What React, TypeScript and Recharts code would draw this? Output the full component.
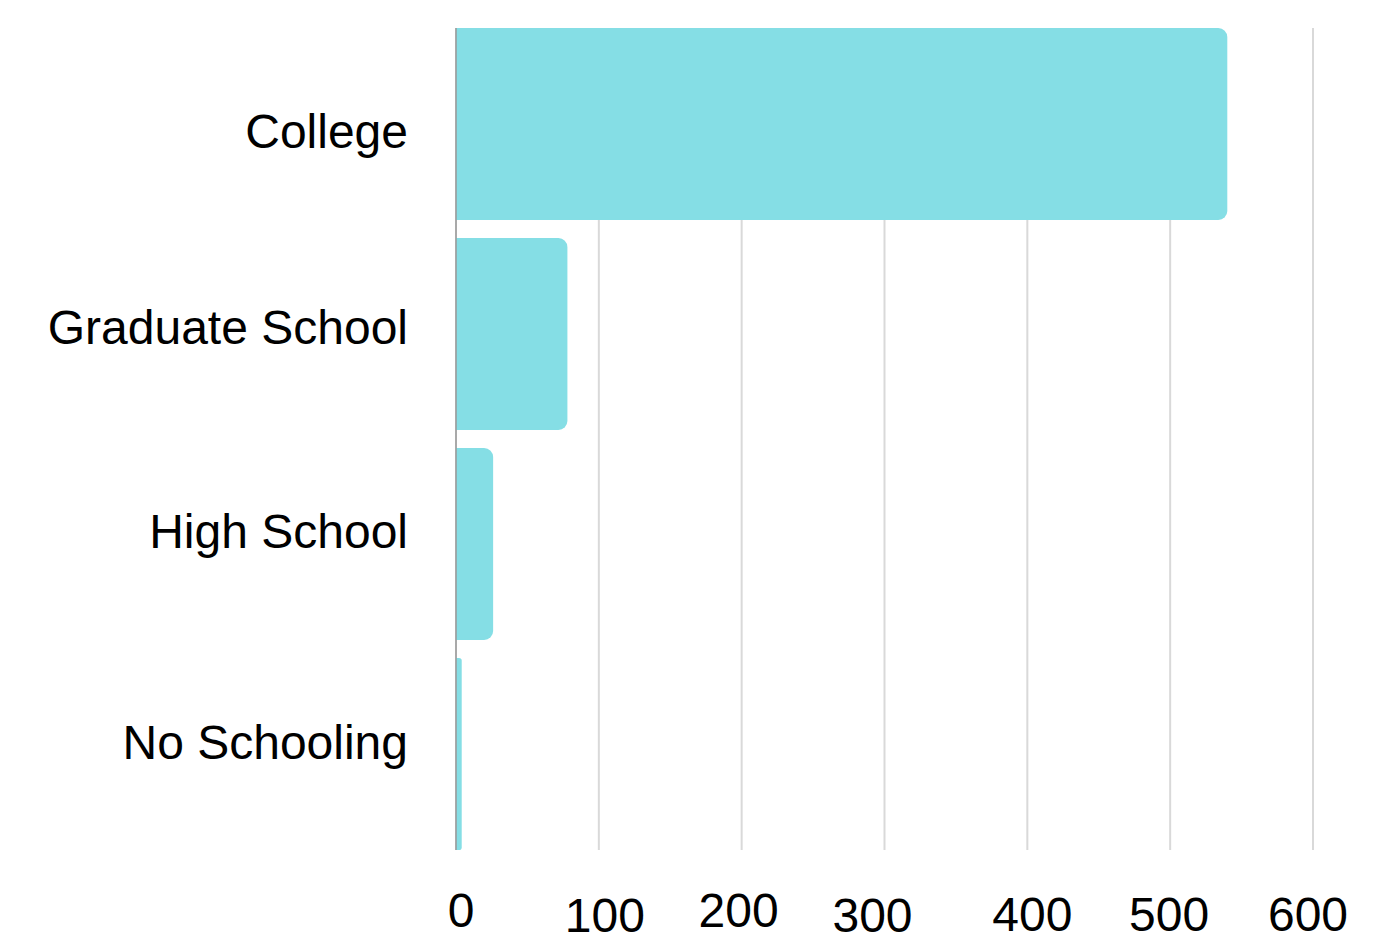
import React from 'react';
import { BarChart, Bar, XAxis, YAxis, CartesianGrid } from 'recharts';

const categories = ['College', 'Graduate School', 'High School', 'No Schooling'];
const counts = [540, 78, 26, 4];
const xTicks = [0, 100, 200, 300, 400, 500, 600];

// small nudges so the tick labels sit where the original put them
const xLabelShift = [5, 6, -3, -12, 5, -1, -5];
const xLabelBaseline = [927, 932, 927, 932, 931, 931, 931];
const yLabelShift = [7, -7, -13, -12];

const data = categories.map((name, i) => ({ name, value: counts[i] }));

const FONT = '"Liberation Sans", Arial, Helvetica, sans-serif';

const XTick = (props: any) => {
  const { x, index, payload } = props;
  return (
    <text
      x={x + (xLabelShift[index] ?? 0)}
      y={xLabelBaseline[index] ?? 931}
      textAnchor="middle"
      fontSize={48}
      fontFamily={FONT}
      fill="#000"
    >
      {payload.value}
    </text>
  );
};

const YTick = (props: any) => {
  const { y, index, payload } = props;
  return (
    <text
      x={408}
      y={y + (yLabelShift[index] ?? 0)}
      dy="0.355em"
      textAnchor="end"
      fontSize={48}
      fontFamily={FONT}
      fill="#000"
    >
      {payload.value}
    </text>
  );
};

const App: React.FC = () => {
  return (
    <div style={{ position: 'absolute', left: 0, top: 0, background: '#fff' }}>
      <BarChart
        width={1400}
        height={942}
        data={data}
        layout="vertical"
        margin={{ top: 28, right: 87, bottom: 0, left: 0 }}
        barCategoryGap={9}
      >
        <CartesianGrid horizontal={false} stroke="#d9d9d9" strokeWidth={2} />
        <XAxis
          type="number"
          domain={[0, 600]}
          ticks={xTicks}
          axisLine={false}
          tickLine={false}
          height={92}
          tick={<XTick />}
        />
        <YAxis
          type="category"
          dataKey="name"
          width={456}
          padding={{ top: -9, bottom: -9 }}
          tickLine={false}
          axisLine={{ stroke: '#999', strokeWidth: 1.5 }}
          tick={<YTick />}
        />
        <Bar dataKey="value" fill="#85dee5" radius={[0, 9, 9, 0]} isAnimationActive={false} />
      </BarChart>
    </div>
  );
};

export default App;
